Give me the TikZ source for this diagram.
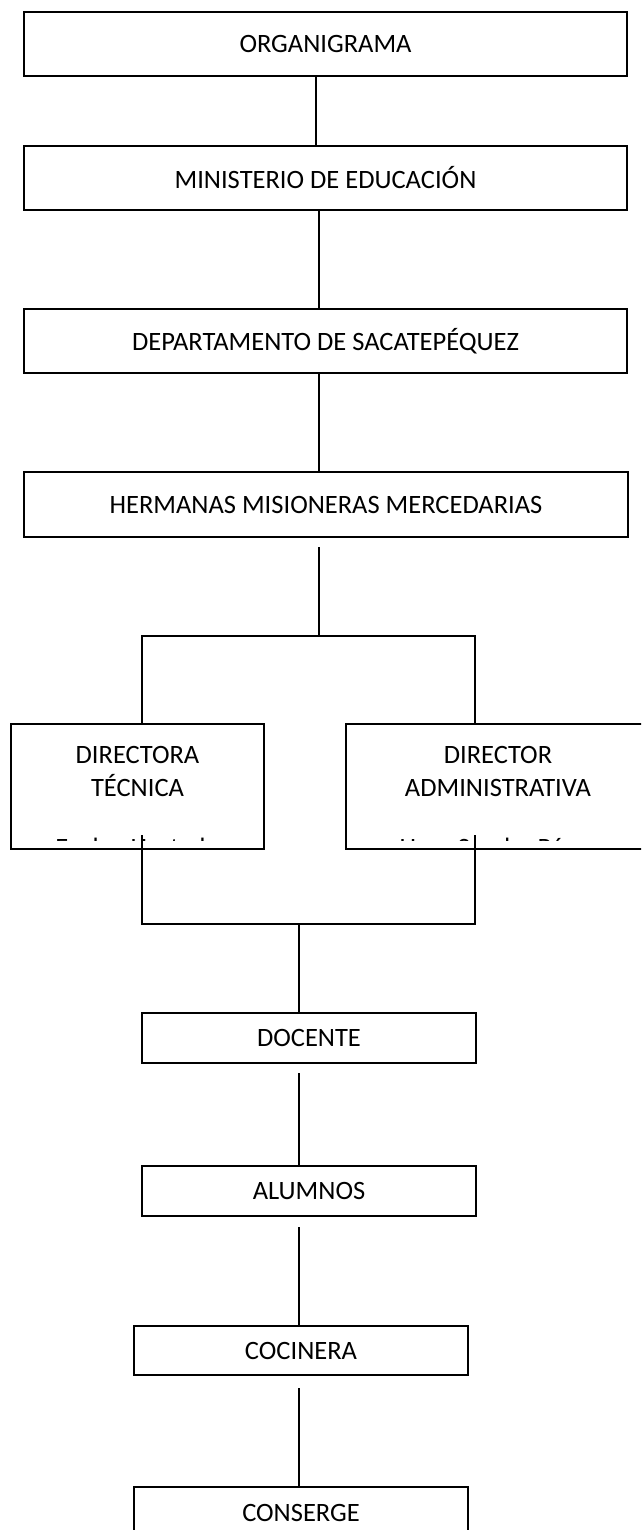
\documentclass[tikz,border=0pt]{standalone}
\usepackage{fontspec}
\setmainfont{Carlito}
\begin{document}
\begin{tikzpicture}[x=1pt,y=-1pt,
  box/.style={draw, line width=1.1pt, inner sep=0pt, outer sep=0pt},
  link/.style={line width=1.4pt},
  lbl/.style={font=\fontsize{26.5}{33}\selectfont, align=center, inner sep=0pt}]
\useasboundingbox (0,0) rectangle (641,1530);
\clip (0,0) rectangle (641,1530);
% boxes
\node[box, lbl, minimum width=603pt, minimum height=64pt] (org) at (325.5,44) {ORGANIGRAMA};
\node[box, lbl, minimum width=603pt, minimum height=64pt] (min) at (325.5,178) {MINISTERIO DE EDUCACIÓN};
\node[box, lbl, minimum width=603pt, minimum height=64pt] (dep) at (325.5,341) {DEPARTAMENTO DE SACATEPÉQUEZ};
\node[box, lbl, minimum width=604pt, minimum height=65pt] (her) at (326,504.5) {HERMANAS MISIONERAS MERCEDARIAS};
\node[box, minimum width=253pt, minimum height=125pt] (dira) at (137.5,786.5) {};
\node[box, minimum width=304pt, minimum height=125pt] (dirb) at (498,786.5) {};
\node[lbl] (dirat) at (137.5,771.5) {DIRECTORA\\TÉCNICA};
\node[lbl] (dirbt) at (498,771.5) {DIRECTOR\\ADMINISTRATIVA};
\begin{scope}
  \clip (11,830) rectangle (650,840);
  \node[lbl, anchor=base] (diran) at (137.5,856) {Evelyn Hurtado};
  \node[lbl, anchor=base] (dirbn) at (498,856) {Hna. Sandra Pérez};
\end{scope}
\node[box, lbl, minimum width=334pt, minimum height=50pt] (doc) at (309,1038) {DOCENTE};
\node[box, lbl, minimum width=334pt, minimum height=50pt] (alu) at (309,1191) {ALUMNOS};
\node[box, lbl, minimum width=334pt, minimum height=49pt] (coc) at (301,1350.5) {COCINERA};
\node[box, lbl, minimum width=334pt, minimum height=52pt] (con) at (301,1513) {CONSERGE};
% columns
\coordinate (c1) at (316,0);
\coordinate (c2) at (319,0);
\coordinate (c3) at (142,0);
\coordinate (c4) at (475,0);
\coordinate (c5) at (299,0);
\coordinate (fork) at (319,636);
\coordinate (cl) at (0,835);
\coordinate (join) at (299,924);
% connectors
\draw[link] (org.south -| c1) -- (min.north -| c1);
\draw[link] (min.south -| c2) -- (dep.north -| c2);
\draw[link] (dep.south -| c2) -- (her.north -| c2);
\draw[link] (her.south -| c2) ++(0,10) -- (fork);
\draw[link] (dira.north -| c3) -- (c3 |- fork) -- (c4 |- fork) -- (dirb.north -| c4);
\draw[link] (c3 |- cl) -- (c3 |- join) -- (c4 |- join) -- (c4 |- cl);
\draw[link] (join) -- (doc.north -| join);
\draw[link] (doc.south -| c5) ++(0,10) -- (alu.north -| c5);
\draw[link] (alu.south -| c5) ++(0,11) -- (coc.north -| c5);
\draw[link] (coc.south -| c5) ++(0,13) -- (con.north -| c5);
\end{tikzpicture}
\end{document}
